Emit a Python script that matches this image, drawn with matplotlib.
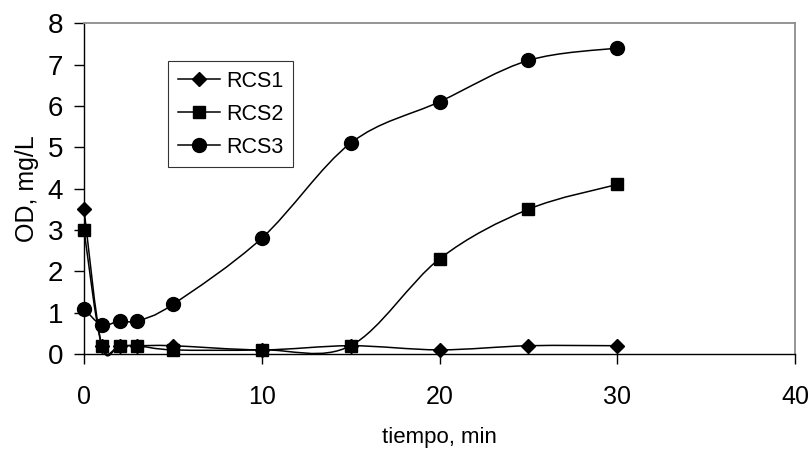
import numpy as np
import matplotlib
matplotlib.use("Agg")
import matplotlib.pyplot as plt
from matplotlib.path import Path
from matplotlib.patches import PathPatch
from matplotlib.lines import Line2D

plt.rcParams['font.family'] = ['Liberation Sans', 'DejaVu Sans']

tiempo = [0, 1, 2, 3, 5, 10, 15, 20, 25, 30]
rcs1 = [3.5, 0.2, 0.2, 0.2, 0.2, 0.1, 0.2, 0.1, 0.2, 0.2]
rcs2 = [3.0, 0.2, 0.2, 0.2, 0.1, 0.1, 0.2, 2.3, 3.5, 4.1]
rcs3 = [1.1, 0.7, 0.8, 0.8, 1.2, 2.8, 5.1, 6.1, 7.1, 7.4]
labels = ['RCS1', 'RCS2', 'RCS3']
markers = ['D', 's', 'o']
msizes = [7, 9, 10]


def smooth_path(x, y):
    # Excel-style smoothed line: Catmull-Rom segments as cubic Bezier curves
    p = np.column_stack([x, y]).astype(float)
    n = len(p)
    verts = [p[0]]
    codes = [Path.MOVETO]
    for i in range(n - 1):
        p0 = p[i - 1] if i > 0 else p[i]
        p3 = p[i + 2] if i + 2 < n else p[i + 1]
        c1 = p[i] + (p[i + 1] - p0) / 6
        c2 = p[i + 1] - (p3 - p[i]) / 6
        verts += [c1, c2, p[i + 1]]
        codes += [Path.CURVE4] * 3
    return Path(verts, codes)


fig = plt.figure(figsize=(8.1, 4.55), dpi=100)
ax = fig.add_axes([0.1037, 0.222, 0.8778, 0.727])

handles = []
for ys, lab, m, ms in zip([rcs1, rcs2, rcs3], labels, markers, msizes):
    ax.add_patch(PathPatch(smooth_path(tiempo, ys), facecolor='none',
                           edgecolor='black', lw=1.1, clip_on=False, zorder=2))
    ax.plot(tiempo, ys, linestyle='none', marker=m, ms=ms, color='black',
            clip_on=False, zorder=3)
    handles.append(Line2D([], [], color='black', lw=1.1, marker=m, ms=ms, label=lab))

ax.set_xlim(0, 40)
ax.set_ylim(0, 8)
ax.set_xticks([0, 10, 20, 30, 40])
ax.set_yticks(range(0, 9))

for s in ['top', 'right']:
    ax.spines[s].set_color('#8c8c8c')
    ax.spines[s].set_linewidth(1.3)
for s in ['left', 'bottom']:
    ax.spines[s].set_linewidth(1.0)

ax.tick_params(axis='y', direction='out', length=7, width=1, labelsize=20, pad=8)
ax.tick_params(axis='x', direction='out', length=7, width=1, labelsize=18, pad=15)

ax.set_xlabel('tiempo, min', fontsize=16, labelpad=13)
ax.set_ylabel('OD, mg/L', fontsize=18, labelpad=6)

leg = ax.legend(handles=handles, loc='upper left', bbox_to_anchor=(0.118, 0.885),
                fontsize=15.5, frameon=True, fancybox=False, handlelength=1.95,
                labelspacing=0.55, borderpad=0.45, handletextpad=0.3,
                borderaxespad=0)
leg.get_frame().set_edgecolor('black')
leg.get_frame().set_linewidth(0.8)

fig.savefig('out.png', dpi=100)
